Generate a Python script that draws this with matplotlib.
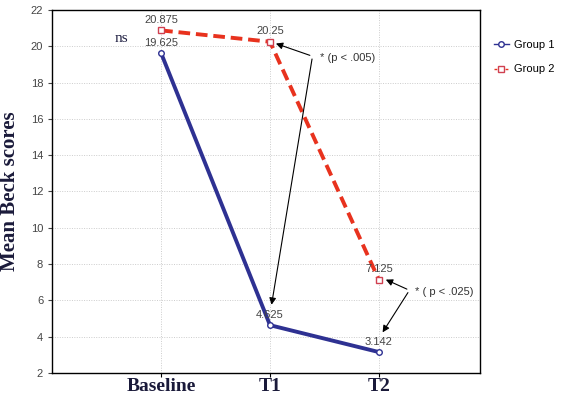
import matplotlib.pyplot as plt
from matplotlib.lines import Line2D

times = ["Baseline", "T1", "T2"]
group1 = [19.625, 4.625, 3.142]
group2 = [20.875, 20.25, 7.125]
labels1 = ["19.625", "4.625", "3.142"]
labels2 = ["20.875", "20.25", "7.125"]

fig = plt.figure(figsize=(5.61, 4), dpi=100)
ax = fig.add_axes([0.093, 0.068, 0.763, 0.907])

x = list(range(len(times)))
ax.plot(x, group1, color="#2e3192", lw=2.8, marker="o", ms=4,
        mfc="white", mec="#2e3192", zorder=3)
ax.plot(x, group2, color="#e8321e", lw=2.8, ls=(0, (3, 1.5)), marker="s", ms=5,
        mfc="white", mec="#d04050", zorder=3)

# value labels
for xi, v, t in zip(x, group1, labels1):
    ax.text(xi, v + 0.3, t, ha="center", va="bottom", fontsize=8,
            color="#444444", family="Liberation Sans")
for xi, v, t in zip(x, group2, labels2):
    ax.text(xi, v + 0.3, t, ha="center", va="bottom", fontsize=8,
            color="#444444", family="Liberation Sans")

ax.text(-0.3, 20.45, "ns", fontsize=11, family="Liberation Serif", color="#222244",
        ha="right", va="center")

# significance arrows
ap = dict(arrowstyle="-|>", color="black", lw=0.8, mutation_scale=10)
ax.annotate("", xy=(1.03, 20.2), xytext=(1.39, 19.45), arrowprops=ap)
ax.annotate("", xy=(1.01, 5.6), xytext=(1.39, 19.45), arrowprops=ap)
ax.text(1.46, 19.35, "* (p < .005)", fontsize=8, family="Liberation Sans",
        color="#333333", va="center")
ax.annotate("", xy=(2.04, 7.2), xytext=(2.28, 6.55), arrowprops=ap)
ax.annotate("", xy=(2.02, 4.1), xytext=(2.28, 6.55), arrowprops=ap)
ax.text(2.33, 6.45, "* ( p < .025)", fontsize=8, family="Liberation Sans",
        color="#333333", va="center")

ax.set_xlim(-1, 2.93)
ax.set_ylim(2, 22)
ax.set_yticks(range(2, 23, 2))
ax.set_xticks(x)
ax.set_xticklabels(times, fontsize=14, fontweight="bold", family="Liberation Serif",
                   color="#1a1a3a")
ax.tick_params(axis="y", labelsize=8, colors="#444444", length=3)
ax.tick_params(axis="x", length=3, pad=1)
for lab in ax.get_yticklabels():
    lab.set_family("Liberation Sans")
ax.grid(True, color="#cccccc", ls=(0, (1, 1.5)), lw=0.7)
ax.set_axisbelow(True)
for s in ax.spines.values():
    s.set_linewidth(1.0)

ax.set_ylabel("Mean Beck scores", fontsize=15, fontweight="bold",
              family="Liberation Serif", color="#1a1a3a", labelpad=8)

handles = [
    Line2D([], [], color="#2e3192", lw=1, marker="o", ms=4, mfc="white", mec="#2e3192"),
    Line2D([], [], color="#e8321e", lw=1, ls=(0, (2, 2)), marker="s", ms=5,
           mfc="white", mec="#d04050"),
]
fig.legend(handles, ["Group 1", "Group 2"], loc="upper left",
           bbox_to_anchor=(0.862, 0.925), frameon=False,
           handlelength=1.4, handletextpad=0.4, labelspacing=1.3,
           prop={"family": "Liberation Sans", "size": 8})

fig.savefig("out.png", dpi=100)
